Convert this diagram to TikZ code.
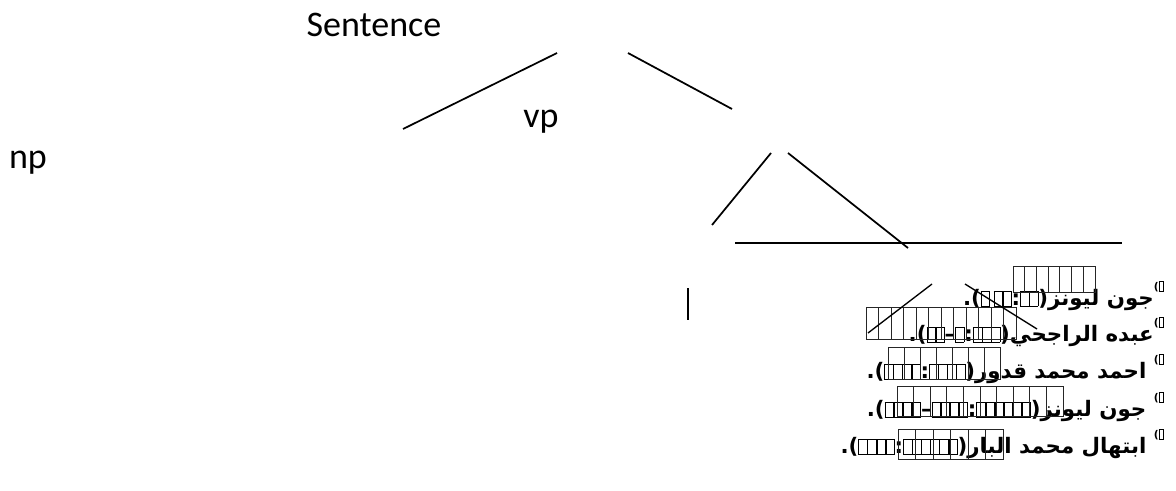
\documentclass[tikz,border=0pt]{standalone}
\usepackage{fontspec}
\setmainfont{Carlito}
\newfontfamily\arabicfont[Script=Arabic]{DejaVu Sans}
\newfontfamily\puncfont{DejaVu Sans}
\TeXXeTstate=1
\usetikzlibrary{positioning}

% empty glyph box, as the missing characters print
\newcommand\gbox[2]{{\setlength\fboxsep{0pt}\setlength\fboxrule{0.4pt}\fbox{\rule{0pt}{#2}\hspace{#1}}}}
\newcommand\smallglyph{\gbox{6pt}{11pt}}
\newcommand\fnmark{\raisebox{1.3ex}{\fontsize{8}{8}\selectfont(\gbox{3pt}{7pt}}}
\newcommand\arname[1]{{\arabicfont\beginR #1\endR}}

\begin{document}
\begin{tikzpicture}[x=0.75pt,y=-0.75pt,label/.style={font=\fontsize{27}{32}\selectfont,inner sep=0pt},branch/.style={draw=black,line width=1.3pt},note/.style={font=\puncfont\bfseries\fontsize{16}{19}\selectfont,anchor=east,inner sep=0pt},glyph/.style={draw=black!85,line width=0.5pt}]
  \useasboundingbox (0,0) rectangle (1176,490);

  \node[label] (sentence) at (374,25) {Sentence};
  \node[label] (vp) at (541,122) {vp};
  \node[label] (np) at (28,163) {np};

  % branch ends
  \coordinate (a1) at (557,53);
  \coordinate (a2) at (403,129);
  \coordinate (b1) at (628,53);
  \coordinate (b2) at (732,109);
  \coordinate (c1) at (771,153);
  \coordinate (c2) at (712,225);
  \coordinate (d1) at (788,153);
  \coordinate (d2) at (908,248);
  \coordinate (h1) at (735,243);
  \coordinate (h2) at (1122,243);
  \coordinate (v1) at (688,288);
  \coordinate (v2) at (688,320);
  \coordinate (e1) at (932,284);
  \coordinate (e2) at (868,333);
  \coordinate (f1) at (965,284);
  \coordinate (f2) at (1037,329);

  \draw[branch] (a1) -- (a2);
  \draw[branch] (b1) -- (b2);
  \draw[branch] (c1) -- (c2);
  \draw[branch] (d1) -- (d2);
  \draw[branch] (h1) -- (h2);
  \draw[branch] (v1) -- (v2);

  % footnotes
  \node[note] (fn1) at (1164,296) {.(\smallglyph\,\smallglyph\smallglyph:\smallglyph\smallglyph)\arname{جون ليونز}\fnmark};
  \node[note] (fn2) at (1164,332) {.(\smallglyph\smallglyph–\smallglyph:\smallglyph\smallglyph\smallglyph)\arname{عبده الراجحي}\fnmark};
  \node[note] (fn3) at (1164,369) {.(\smallglyph\smallglyph\smallglyph\smallglyph:\smallglyph\smallglyph\smallglyph\smallglyph)\arname{احمد محمد قدور}\ \fnmark};
  \node[note] (fn4) at (1164,407) {.(\smallglyph\smallglyph\smallglyph\smallglyph–\smallglyph\smallglyph\smallglyph\smallglyph:\smallglyph\smallglyph\smallglyph\smallglyph\smallglyph\smallglyph)\arname{جون ليونز}\ \fnmark};
  \node[note] (fn5) at (1164,444) {.(\smallglyph\smallglyph\smallglyph\smallglyph:\smallglyph\smallglyph\smallglyph\smallglyph\smallglyph\smallglyph)\arname{ابتهال محمد البار}\ \fnmark};

  % raised rows of glyph boxes
  \foreach \x/\n/\w/\y/\h in {1013/7/11.7/266/26,866/12/12.5/307/32,888/7/16/347/32,897/10/16.6/386/30,898/6/17.5/429/30}
    \foreach \i in {1,...,\n}
      \draw[glyph] (\x+\i*\w-\w,\y) rectangle ++(\w,\h);

  \draw[branch,line width=1pt] (e1) -- (e2);
  \draw[branch,line width=1pt] (f1) -- (f2);
\end{tikzpicture}
\end{document}
